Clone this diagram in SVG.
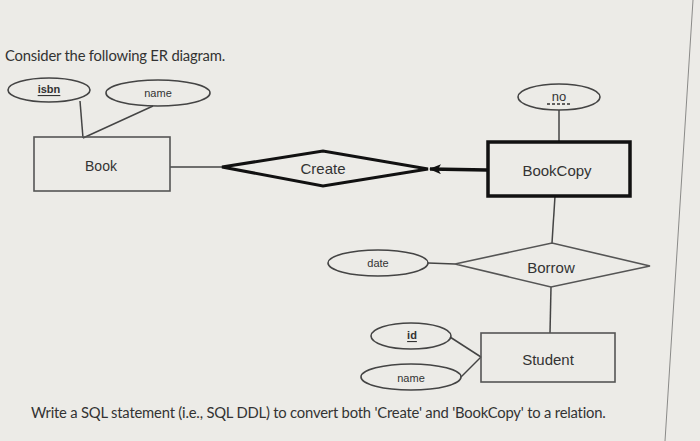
<svg xmlns="http://www.w3.org/2000/svg" width="700" height="441" viewBox="0 0 700 441">
<style>
.q{font-family:Lato,"Liberation Sans",sans-serif;font-size:14.8px;fill:#333;letter-spacing:-0.2px}
.lb{font-family:"Liberation Sans",Arial,sans-serif;fill:#333;text-anchor:middle;dominant-baseline:central}
.attr{fill:none;stroke:#444;stroke-width:1.6}
.ent{fill:none;stroke:#555;stroke-width:1.6}
.conn{stroke:#444;stroke-width:1.5;fill:none}
</style>
<defs>
<marker id="arr" markerWidth="12" markerHeight="10" refX="11" refY="5" orient="auto" markerUnits="userSpaceOnUse">
<path d="M0,0 L12,5 L0,10 L3,5 Z" fill="#111"/>
</marker>
</defs>
<rect x="0" y="0" width="700" height="441" fill="#ecebe7"/>
<line x1="693" y1="0" x2="665" y2="441" stroke="#8a8a88" stroke-width="1"/>
<text class="q" x="5" y="61">Consider the following ER diagram.</text>
<text class="q" x="31" y="418">Write a SQL statement (i.e., SQL DDL) to convert both 'Create' and 'BookCopy' to a relation.</text>
<g id="connectors">
<line class="conn" x1="80" y1="101" x2="83" y2="138"/>
<line class="conn" x1="153" y1="106" x2="83" y2="138"/>
<line class="conn" x1="170" y1="167" x2="222" y2="167"/>
<line x1="487" y1="170" x2="430" y2="169" stroke="#111" stroke-width="3.5" marker-end="url(#arr)"/>
<line class="conn" x1="559" y1="110" x2="559" y2="141"/>
<line class="conn" x1="555" y1="196" x2="552" y2="243"/>
<line class="conn" x1="428" y1="263" x2="455" y2="264"/>
<line class="conn" x1="551" y1="287" x2="550" y2="333"/>
<line class="conn" x1="450" y1="337" x2="481" y2="357"/>
<line class="conn" x1="461" y1="377" x2="481" y2="357"/>
</g>
<g id="isbn">
<ellipse class="attr" cx="49" cy="90" rx="41" ry="12"/>
<text class="lb" x="49" y="89" font-size="11" text-decoration="underline" font-weight="bold">isbn</text>
</g>
<g id="name1">
<ellipse class="attr" cx="158" cy="93" rx="52" ry="13"/>
<text class="lb" x="158" y="93" font-size="11">name</text>
</g>
<g id="Book">
<rect class="ent" x="34" y="137" width="136" height="54"/>
<text class="lb" x="101" y="166" font-size="14">Book</text>
</g>
<g id="Create">
<polygon points="222,167 323,151 428,169 323,186" fill="none" stroke="#111" stroke-width="3"/>
<text class="lb" x="323" y="168" font-size="15">Create</text>
</g>
<g id="no">
<ellipse class="attr" cx="559" cy="97" rx="41" ry="13"/>
<text class="lb" x="559" y="96" font-size="13">no</text>
<line x1="547" y1="104" x2="572" y2="104" stroke="#333" stroke-width="1.3" stroke-dasharray="3,2"/>
</g>
<g id="BookCopy">
<rect x="488" y="142" width="142" height="54" fill="none" stroke="#111" stroke-width="3.5"/>
<text class="lb" x="557" y="170" font-size="15">BookCopy</text>
</g>
<g id="date">
<ellipse class="attr" cx="378" cy="263" rx="50" ry="13"/>
<text class="lb" x="378" y="263" font-size="11">date</text>
</g>
<g id="Borrow">
<polygon class="ent" points="455,264 552,243 650,266 551,287"/>
<text class="lb" x="551" y="267" font-size="15">Borrow</text>
</g>
<g id="id">
<ellipse class="attr" cx="411" cy="336" rx="40" ry="13"/>
<text class="lb" x="412" y="335" font-size="11" font-weight="bold" text-decoration="underline">id</text>
</g>
<g id="name2">
<ellipse class="attr" cx="411" cy="377" rx="50" ry="13"/>
<text class="lb" x="411" y="378" font-size="11">name</text>
</g>
<g id="Student">
<rect class="ent" x="481" y="333" width="134" height="49"/>
<text class="lb" x="548" y="359" font-size="15">Student</text>
</g>
</svg>
